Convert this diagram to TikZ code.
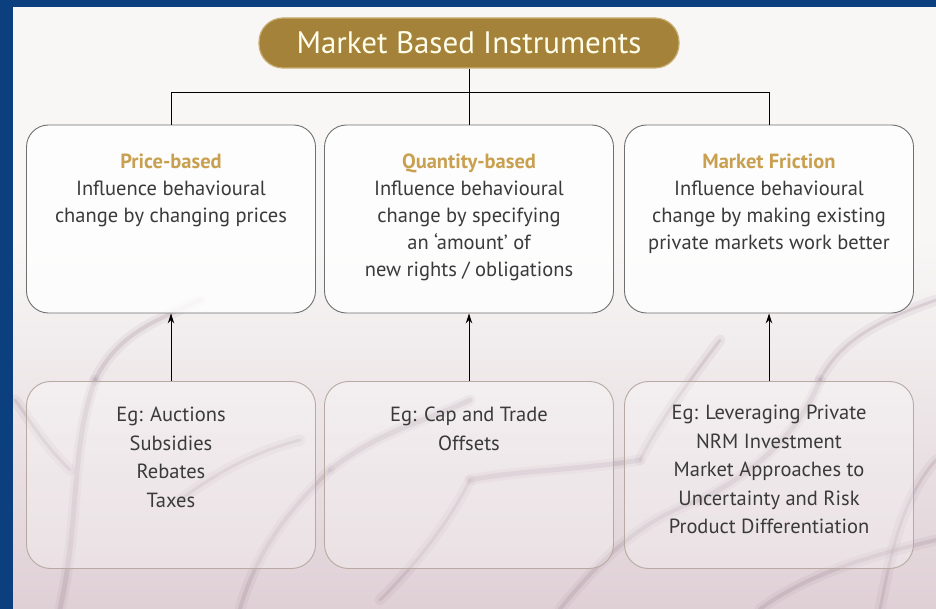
\documentclass[tikz,border=0pt]{standalone}
\usepackage{fontspec}
\setmainfont{PT Sans}
\usetikzlibrary{arrows.meta,calc}

\definecolor{frame}{HTML}{0B3F7E}
\definecolor{gold}{HTML}{A5823A}
\definecolor{goldrim}{HTML}{C9AE72}
\definecolor{headgold}{HTML}{C8A050}
\definecolor{ink}{HTML}{3A3A3A}
\definecolor{paper}{HTML}{F8F7F6}
\definecolor{mauve}{HTML}{DFD0D6}
\definecolor{vein}{HTML}{9C8392}
\definecolor{upperline}{HTML}{707070}
\definecolor{lowerline}{HTML}{B8A9A2}

\tikzset{
  pill/.style={rectangle, rounded corners=24pt, fill=gold, draw=goldrim, line width=1.2pt,
    minimum width=420pt, minimum height=50pt, inner sep=0pt,
    text=white!92!yellow, font=\fontsize{31}{34}\selectfont},
  upperbox/.style={rectangle, rounded corners=22pt, draw=upperline, line width=0.9pt,
    fill=white, fill opacity=0.8, text opacity=1,
    minimum width=289pt, minimum height=188pt, inner sep=0pt},
  lowerbox/.style={rectangle, rounded corners=24pt, draw=lowerline, line width=0.9pt,
    fill=white, fill opacity=0.3,
    minimum width=289pt, minimum height=187pt, inner sep=0pt},
  body/.style={align=center, text=ink, inner sep=0pt,
    font=\fontsize{20.5}{27}\selectfont},
  egbody/.style={body, font=\fontsize{20.5}{28.5}\selectfont},
  link/.style={draw=black, line width=1pt},
  uparrow/.style={draw=black, line width=1pt, -{Stealth[length=10pt,width=6.5pt]}},
  veinline/.style={draw=vein, line cap=round, opacity=0.22,
    preaction={draw=vein, opacity=0.10, line width=11pt, line cap=round}}
}

\begin{document}
\begin{tikzpicture}[x=1pt,y=-1pt]
\useasboundingbox (0,0) rectangle (936,609);

% paper background, fading to a mauve stone texture towards the bottom
\fill[paper] (0,0) rectangle (936,609);
\shade[top color=paper, bottom color=mauve] (0,240) rectangle (936,609);

% faint root-like cracks in the stone
\draw[veinline, line width=5pt] (60,609) .. controls (80,520) and (70,450) .. (95,380);
\draw[veinline, line width=4pt] (95,380) .. controls (120,330) and (160,320) .. (200,300);
\draw[veinline, line width=3pt] (70,470) .. controls (40,440) and (30,420) .. (15,400);
\draw[veinline, line width=4pt] (240,609) .. controls (260,540) and (300,500) .. (330,470);
\draw[veinline, line width=5pt] (330,470) .. controls (380,430) and (430,420) .. (470,400);
\draw[veinline, line width=3pt] (380,600) .. controls (420,560) and (450,520) .. (470,480);
\draw[veinline, line width=5pt] (470,480) .. controls (520,470) and (580,470) .. (640,460);
\draw[veinline, line width=4pt] (560,609) .. controls (600,560) and (640,520) .. (700,500);
\draw[veinline, line width=5pt] (700,500) .. controls (760,470) and (800,430) .. (820,380);
\draw[veinline, line width=3pt] (820,380) .. controls (840,340) and (880,320) .. (936,300);
\draw[veinline, line width=4pt] (760,609) .. controls (800,580) and (850,560) .. (936,540);
\draw[veinline, line width=3pt] (640,460) .. controls (660,420) and (690,380) .. (720,340);
\draw[veinline, line width=3pt] (180,500) .. controls (220,470) and (260,450) .. (300,440);
\draw[veinline, line width=3pt] (880,609) .. controls (890,560) and (900,500) .. (936,460);

% blue frame along the top and left edges
\fill[frame] (0,0) rectangle (936,7);
\fill[frame] (0,0) rectangle (13,609);

% title
\node[pill] (mbi) at (469,43) {Market Based Instruments};

% upper category boxes
\node[upperbox] (price) at (171,219) {};
\node[upperbox] (qty)   at (469,219) {};
\node[upperbox] (fric)  at (769,219) {};

\node[body, anchor=north] (pricetext) at ($(price.north)+(0,29)$)
  {{\bfseries\color{headgold}Price-based}\\Influence behavioural\\change by changing prices};
\node[body, anchor=north] (qtytext) at ($(qty.north)+(0,29)$)
  {{\bfseries\color{headgold}Quantity-based}\\Influence behavioural\\change by specifying\\an `amount' of\\new rights / obligations};
\node[body, anchor=north] (frictext) at ($(fric.north)+(0,29)$)
  {{\bfseries\color{headgold}Market Friction}\\Influence behavioural\\change by making existing\\private markets work better};

% lower example boxes
\node[lowerbox] (priceeg) at (171,475) {};
\node[lowerbox] (qtyeg)   at (469,475) {};
\node[lowerbox] (fricEg)  at (769,475) {};

\node[egbody, anchor=north] (priceegtext) at ($(priceeg.north)+(0,26)$)
  {Eg: Auctions\\Subsidies\\Rebates\\Taxes};
\node[egbody, anchor=north] (qtyegtext) at ($(qtyeg.north)+(0,26)$)
  {Eg: Cap and Trade\\Offsets};
\node[egbody, anchor=north] (fricegtext) at ($(fricEg.north)+(0,24)$)
  {Eg: Leveraging Private\\NRM Investment\\Market Approaches to\\Uncertainty and Risk\\Product Differentiation};

% tree connector from the title to the three categories
\coordinate (bus) at ($(mbi.south)+(0,24)$);
\draw[link] (mbi.south) -- (bus);
\draw[link] (bus) -| (price.north);
\draw[link] (bus) -- (qty.north);
\draw[link] (bus) -| (fric.north);

% examples feed the categories
\draw[uparrow] (priceeg.north) -- (price.south);
\draw[uparrow] (qtyeg.north) -- (qty.south);
\draw[uparrow] (fricEg.north) -- (fric.south);
\end{tikzpicture}
\end{document}
